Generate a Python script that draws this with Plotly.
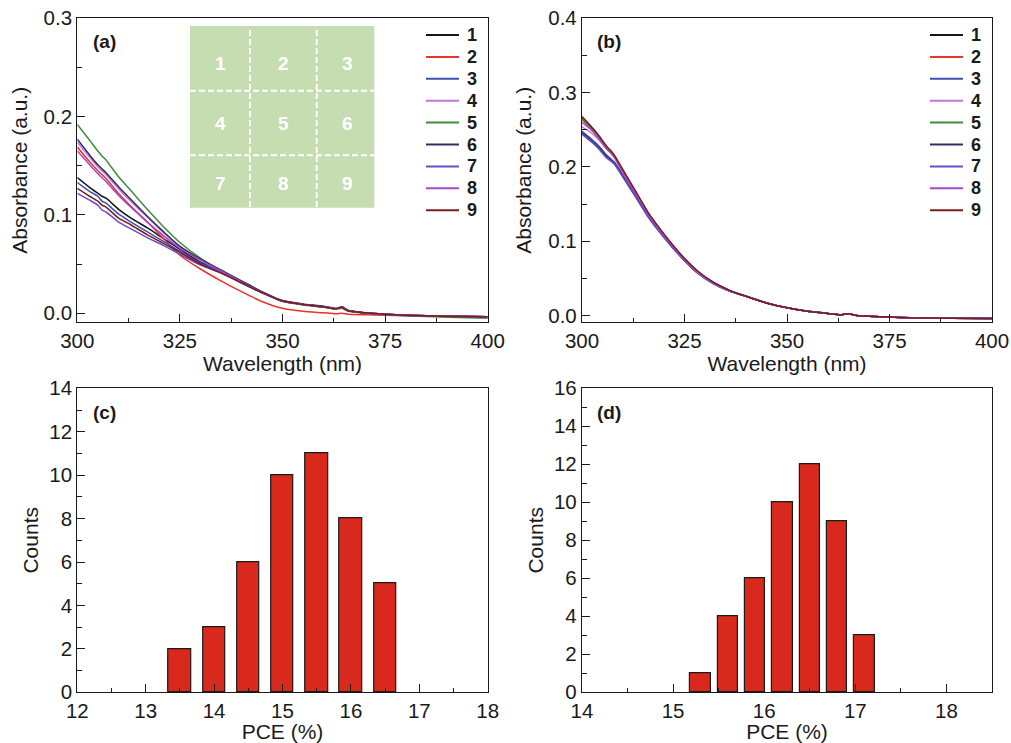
import plotly.graph_objects as go

W, H = 1011, 743
FONT = "Liberation Sans, Arial, sans-serif"
INK = "#1a1a1a"

# ---------------- data ----------------
series_names = ["1", "2", "3", "4", "5", "6", "7", "8", "9"]
series_colors = ["#151515", "#e8322b", "#3b4fb5", "#c275d8", "#3c8c3c",
                 "#2e2e66", "#6a4cc8", "#a845c8", "#7a1c1c"]

# panel (a): absorbance spectra of the nine film positions
wl_a = [300, 303, 305, 306, 307, 310, 313, 317, 321, 325, 330, 335, 340, 345,
        350, 355, 360, 363, 364.5, 366, 370, 375, 380, 390, 400]
abs_a_1 = [0.138, 0.128, 0.122, 0.119, 0.117, 0.106, 0.097, 0.087, 0.076, 0.065,
           0.052, 0.042, 0.031, 0.021, 0.0125, 0.009, 0.0065, 0.0045, 0.006, 0.0025,
           0.0005, -0.001, -0.002, -0.003, -0.0035]
abs_a_2 = [0.169, 0.154, 0.145, 0.141, 0.137, 0.122, 0.109, 0.093, 0.076, 0.059,
           0.045, 0.033, 0.022, 0.012, 0.005, 0.002, 0.0005, -0.0005, 0.0, -0.001,
           -0.0015, -0.002, -0.0025, -0.003, -0.0035]
abs_a_3 = [0.133, 0.124, 0.119, 0.114, 0.112, 0.101, 0.093, 0.083, 0.073, 0.063,
           0.051, 0.042, 0.031, 0.021, 0.0125, 0.009, 0.0065, 0.0045, 0.0065, 0.0025,
           0.0005, -0.001, -0.002, -0.003, -0.0035]
abs_a_4 = [0.174, 0.159, 0.149, 0.145, 0.141, 0.127, 0.114, 0.098, 0.082, 0.068,
           0.055, 0.043, 0.032, 0.021, 0.0125, 0.009, 0.0065, 0.0045, 0.006, 0.0025,
           0.0005, -0.001, -0.002, -0.003, -0.0035]
abs_a_5 = [0.192, 0.176, 0.165, 0.160, 0.156, 0.139, 0.125, 0.106, 0.088, 0.072,
           0.056, 0.043, 0.032, 0.021, 0.012, 0.0085, 0.006, 0.004, 0.005, 0.002,
           0.0, -0.0015, -0.0025, -0.004, -0.005]
abs_a_6 = [0.177, 0.161, 0.151, 0.147, 0.143, 0.129, 0.116, 0.099, 0.083, 0.068,
           0.055, 0.044, 0.033, 0.022, 0.013, 0.0095, 0.0072, 0.005, 0.0065, 0.003,
           0.0005, -0.001, -0.002, -0.003, -0.0035]
abs_a_7 = [0.122, 0.115, 0.110, 0.105, 0.103, 0.093, 0.086, 0.077, 0.069, 0.060,
           0.049, 0.041, 0.031, 0.021, 0.0125, 0.009, 0.0065, 0.0045, 0.006, 0.0025,
           0.0005, -0.001, -0.002, -0.003, -0.0035]
abs_a_8 = [0.165, 0.151, 0.142, 0.138, 0.134, 0.120, 0.108, 0.093, 0.079, 0.066,
           0.054, 0.043, 0.032, 0.021, 0.0125, 0.009, 0.0065, 0.0045, 0.006, 0.0025,
           0.0005, -0.001, -0.002, -0.003, -0.0035]
abs_a_9 = [0.127, 0.119, 0.114, 0.110, 0.108, 0.097, 0.090, 0.080, 0.071, 0.062,
           0.050, 0.041, 0.031, 0.021, 0.0125, 0.009, 0.0065, 0.0045, 0.006, 0.0025,
           0.0005, -0.001, -0.002, -0.003, -0.0035]

# panel (b): absorbance spectra of the nine positions, second film
wl_b = [300, 302, 304, 306, 307, 308, 310, 313, 316, 319, 322, 325, 328, 332,
        336, 340, 345, 350, 355, 360, 363, 365, 367, 370, 375, 380, 390, 400]
abs_b_1 = [0.266, 0.255, 0.242, 0.227, 0.221, 0.214, 0.195, 0.167, 0.139, 0.116, 0.095, 0.076, 0.060, 0.045,
           0.034, 0.026, 0.017, 0.0105, 0.006, 0.003, 0.001, 0.0025, 0.0, -0.001, -0.002, -0.003, -0.0035, -0.004]
abs_b_2 = [0.264, 0.253, 0.240, 0.225, 0.219, 0.212, 0.194, 0.166, 0.138, 0.115, 0.094, 0.075, 0.060, 0.044,
           0.033, 0.026, 0.017, 0.0105, 0.006, 0.003, 0.001, 0.0025, 0.0, -0.001, -0.002, -0.003, -0.0035, -0.004]
abs_b_3 = [0.248, 0.239, 0.229, 0.216, 0.211, 0.206, 0.189, 0.162, 0.135, 0.113, 0.093, 0.074, 0.059, 0.044,
           0.033, 0.026, 0.017, 0.0105, 0.006, 0.003, 0.001, 0.0025, 0.0, -0.001, -0.002, -0.003, -0.0035, -0.004]
abs_b_4 = [0.254, 0.247, 0.237, 0.225, 0.221, 0.214, 0.192, 0.164, 0.137, 0.114, 0.094, 0.075, 0.059, 0.044,
           0.033, 0.026, 0.017, 0.0105, 0.006, 0.003, 0.001, 0.0025, 0.0, -0.001, -0.002, -0.003, -0.0035, -0.004]
abs_b_5 = [0.265, 0.254, 0.241, 0.226, 0.220, 0.213, 0.194, 0.166, 0.139, 0.116, 0.095, 0.076, 0.060, 0.044,
           0.034, 0.026, 0.017, 0.0105, 0.006, 0.003, 0.001, 0.0025, 0.0, -0.001, -0.002, -0.003, -0.0035, -0.004]
abs_b_6 = [0.246, 0.237, 0.227, 0.214, 0.209, 0.204, 0.187, 0.161, 0.134, 0.112, 0.092, 0.074, 0.058, 0.043,
           0.033, 0.026, 0.017, 0.0105, 0.006, 0.003, 0.001, 0.0025, 0.0, -0.001, -0.002, -0.003, -0.0035, -0.004]
abs_b_7 = [0.244, 0.235, 0.225, 0.212, 0.208, 0.203, 0.186, 0.160, 0.134, 0.112, 0.092, 0.074, 0.058, 0.043,
           0.033, 0.026, 0.017, 0.0105, 0.006, 0.003, 0.001, 0.0025, 0.0, -0.001, -0.002, -0.003, -0.0035, -0.004]
abs_b_8 = [0.260, 0.251, 0.239, 0.224, 0.219, 0.212, 0.193, 0.165, 0.138, 0.115, 0.094, 0.075, 0.059, 0.044,
           0.033, 0.026, 0.017, 0.0105, 0.006, 0.003, 0.001, 0.0025, 0.0, -0.001, -0.002, -0.003, -0.0035, -0.004]
abs_b_9 = [0.268, 0.256, 0.243, 0.228, 0.222, 0.215, 0.196, 0.168, 0.140, 0.117, 0.096, 0.077, 0.061, 0.045,
           0.034, 0.026, 0.017, 0.0105, 0.006, 0.003, 0.001, 0.0025, 0.0, -0.001, -0.002, -0.003, -0.0035, -0.004]

# panels (c), (d): PCE histograms
pce_c = [13.5, 14.0, 14.5, 15.0, 15.5, 16.0, 16.5]
counts_c = [2, 3, 6, 10, 11, 8, 5]
pce_d = [15.3, 15.6, 15.9, 16.2, 16.5, 16.8, 17.1]
counts_d = [1, 4, 6, 10, 12, 9, 3]

inset_labels = ["1", "2", "3", "4", "5", "6", "7", "8", "9"]

abs_a = [abs_a_1, abs_a_2, abs_a_3, abs_a_4, abs_a_5, abs_a_6, abs_a_7, abs_a_8, abs_a_9]
abs_b = [abs_b_1, abs_b_2, abs_b_3, abs_b_4, abs_b_5, abs_b_6, abs_b_7, abs_b_8, abs_b_9]

# ---------------- helpers ----------------
def px(x):
    return x / W


def py(y):
    return 1 - y / H


fig = go.Figure()

for name, color, ys in zip(series_names, series_colors, abs_a):
    fig.add_trace(go.Scatter(x=wl_a, y=ys, mode="lines", name=name,
                             line=dict(color=color, width=1.5, shape="spline", smoothing=0.5),
                             xaxis="x", yaxis="y", showlegend=False))
for name, color, ys in zip(series_names, series_colors, abs_b):
    fig.add_trace(go.Scatter(x=wl_b, y=ys, mode="lines", name=name,
                             line=dict(color=color, width=1.5, shape="spline", smoothing=0.5),
                             xaxis="x2", yaxis="y2", showlegend=False))

bar_style = dict(color="#d9291c", line=dict(color=INK, width=1.2))
fig.add_trace(go.Bar(x=pce_c, y=counts_c, width=0.33, marker=bar_style,
                     xaxis="x3", yaxis="y3", showlegend=False))
fig.add_trace(go.Bar(x=pce_d, y=counts_d, width=0.225, marker=bar_style,
                     xaxis="x4", yaxis="y4", showlegend=False))

# ---------------- axes ----------------
tick_font = dict(family=FONT, size=20.5, color=INK)
title_font = dict(family=FONT, size=21, color=INK)


def axis(domain, rng, dtick, minor_dtick, title, anchor, standoff, tickformat=None, tickvals=None):
    d = dict(domain=domain, range=rng, anchor=anchor,
             showline=True, mirror=True, linecolor=INK, linewidth=1.3,
             showgrid=False, zeroline=False,
             ticks="inside", ticklen=8, tickwidth=1.2, tickcolor=INK,
             minor=dict(ticks="inside", ticklen=4.5, tickwidth=1.1, tickcolor=INK,
                        dtick=minor_dtick, showgrid=False),
             tickfont=tick_font,
             title=dict(text=title, font=title_font, standoff=standoff),
             automargin=False)
    if tickvals is not None:
        d["tickvals"] = tickvals
    else:
        d["dtick"] = dtick
        d["tick0"] = 0
    if tickformat:
        d["tickformat"] = tickformat
    return d


dom_x_left = [px(77.3), px(487.7)]
dom_x_right = [px(582), px(992)]
dom_y_top = [py(322.3), py(18.3)]
dom_y_bot = [py(692.3), py(388.3)]

fig.update_layout(
    width=W, height=H,
    margin=dict(l=0, r=0, t=0, b=0),
    paper_bgcolor="white", plot_bgcolor="white",
    font=dict(family=FONT, color=INK),
    bargap=0,
    xaxis=axis(dom_x_left, [300, 400], 25, 12.5, "Wavelength (nm)", "y", 2),
    yaxis=axis(dom_y_top, [-0.0092, 0.3], 0.1, 0.05, "Absorbance (a.u.)", "x", 10,
               tickformat=".1f", tickvals=[0, 0.1, 0.2, 0.3]),
    xaxis2=axis(dom_x_right, [300, 400], 25, 12.5, "Wavelength (nm)", "y2", 2),
    yaxis2=axis(dom_y_top, [-0.009, 0.4], 0.1, 0.05, "Absorbance (a.u.)", "x2", 10,
                tickformat=".1f", tickvals=[0, 0.1, 0.2, 0.3, 0.4]),
    xaxis3=axis(dom_x_left, [12, 18], 1, 0.5, "PCE (%)", "y3", 2),
    yaxis3=axis(dom_y_bot, [0, 14], 2, 1, "Counts", "x3", 4),
    xaxis4=axis(dom_x_right, [14, 18.5], 1, 0.5, "PCE (%)", "y4", 2),
    yaxis4=axis(dom_y_bot, [0, 16], 2, 1, "Counts", "x4", 4),
)

shapes = []
annotations = []

# panel letters
for letter, (lx, ly) in zip(["(a)", "(b)", "(c)", "(d)"],
                            [(91, 42), (595, 42), (91, 412), (595, 412)]):
    annotations.append(dict(text=f"<b>{letter}</b>", x=px(lx), y=py(ly), xref="paper", yref="paper",
                            xanchor="left", yanchor="middle", showarrow=False,
                            font=dict(family=FONT, size=19, color=INK)))

# hand-built legends for (a) and (b)
for x_line0, x_line1, x_text in [(426, 459, 465), (930, 963, 969)]:
    for i, (name, color) in enumerate(zip(series_names, series_colors)):
        yy = 35 + 21.9 * i
        shapes.append(dict(type="line", xref="paper", yref="paper",
                           x0=px(x_line0), x1=px(x_line1), y0=py(yy), y1=py(yy),
                           line=dict(color=color, width=2)))
        annotations.append(dict(text=f"<b>{name}</b>", x=px(x_text), y=py(yy), xref="paper", yref="paper",
                                xanchor="left", yanchor="middle", showarrow=False,
                                font=dict(family=FONT, size=18, color=INK)))

# inset: 3x3 sample layout map in panel (a)
ix0, ix1, iy0, iy1 = 190, 374.3, 26, 207.7
shapes.append(dict(type="rect", xref="paper", yref="paper",
                   x0=px(ix0), x1=px(ix1), y0=py(iy0), y1=py(iy1),
                   fillcolor="#c6dcb1", line=dict(width=0), layer="above"))
for vx in (250, 316.7):
    shapes.append(dict(type="line", xref="paper", yref="paper",
                       x0=px(vx), x1=px(vx), y0=py(iy0 + 4), y1=py(iy1),
                       line=dict(color="white", width=2, dash="6px,3px")))
for hy in (90.7, 155.3):
    shapes.append(dict(type="line", xref="paper", yref="paper",
                       x0=px(ix0), x1=px(ix1), y0=py(hy), y1=py(hy),
                       line=dict(color="white", width=2, dash="6px,3px")))
cell_x = [220, 283.3, 347.3]
cell_y = [63.3, 123.3, 183.3]
for k, lab in enumerate(inset_labels):
    annotations.append(dict(text=f"<b>{lab}</b>", x=px(cell_x[k % 3]), y=py(cell_y[k // 3]),
                            xref="paper", yref="paper", xanchor="center", yanchor="middle",
                            showarrow=False, font=dict(family=FONT, size=19, color="white")))

fig.update_layout(shapes=shapes, annotations=annotations)

fig.write_html("out.html")
